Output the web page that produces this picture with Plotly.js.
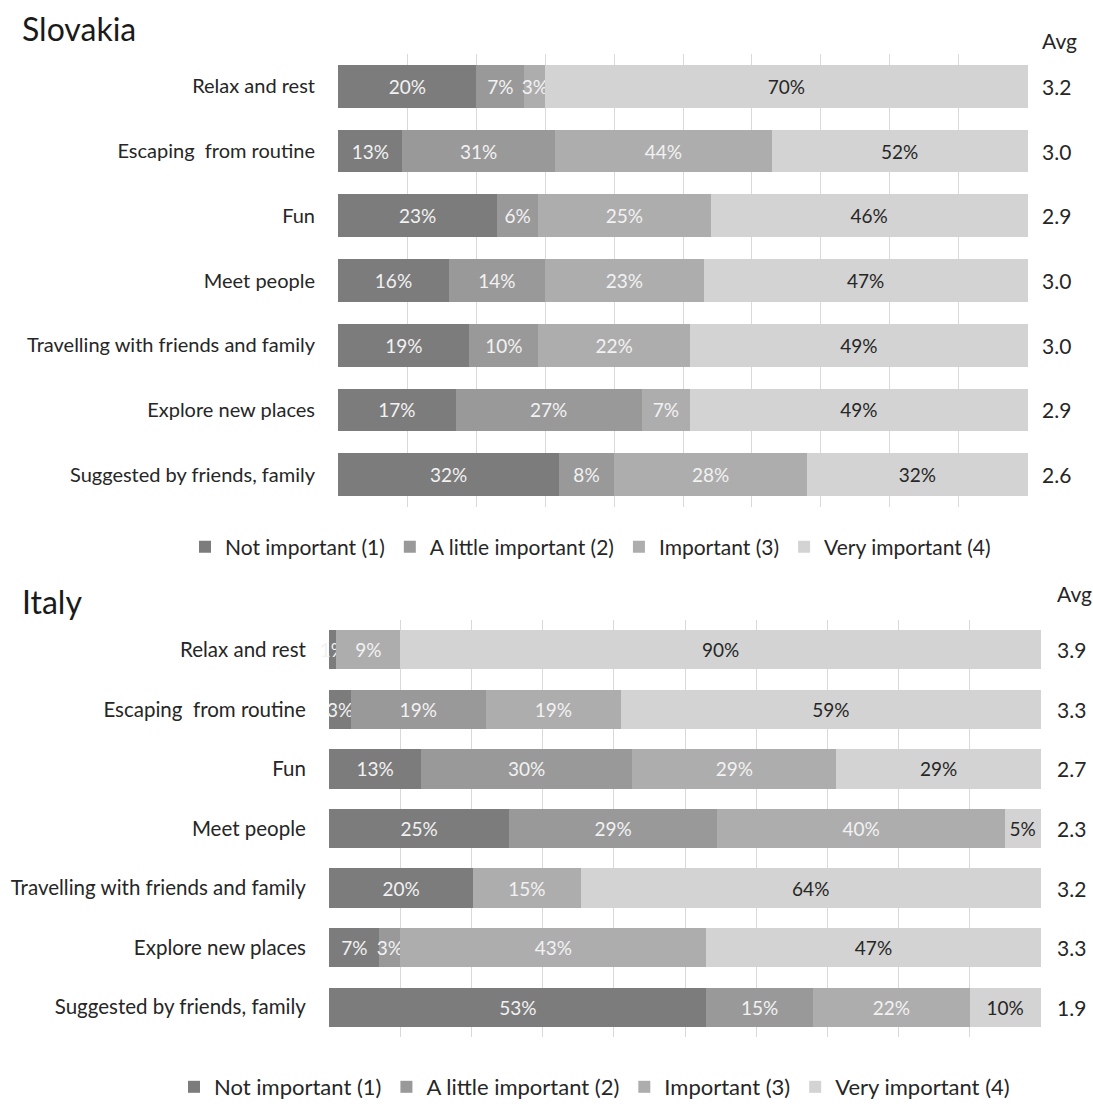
<!DOCTYPE html>
<html>
<head>
<meta charset="utf-8">
<script src="https://cdn.plot.ly/plotly-3.0.1.min.js"></script>
<style>
  html, body { margin: 0; padding: 0; background: #ffffff; }
  #sk { position: absolute; left: 0; top: 0; width: 1093px; height: 560px; }
  #it { position: absolute; left: 0; top: 560px; width: 1093px; height: 548px; }
</style>
</head>
<body>
<div id="sk"></div>
<div id="it"></div>
<script>
// ---------- data ----------
const categories = [
  'Relax and rest',
  'Escaping\u00a0 from routine',
  'Fun',
  'Meet people',
  'Travelling with friends and family',
  'Explore new places',
  'Suggested by friends, family'
];
const seriesNames = ['Not important (1)', 'A little important (2)', 'Important (3)', 'Very important (4)'];

// Slovakia
const skNotImportant = [20, 13, 23, 16, 19, 17, 32];
const skLittle       = [7, 31, 6, 14, 10, 27, 8];
const skImportant    = [3, 44, 25, 23, 22, 7, 28];
const skVery         = [70, 52, 46, 47, 49, 49, 32];
const skAvg          = ['3.2', '3.0', '2.9', '3.0', '3.0', '2.9', '2.6'];

// Italy
const itNotImportant = [1, 3, 13, 25, 20, 7, 53];
const itLittle       = [0, 19, 30, 29, 0, 3, 15];
const itImportant    = [9, 19, 29, 40, 15, 43, 22];
const itVery         = [90, 59, 29, 5, 64, 47, 10];
const itAvg          = ['3.9', '3.3', '2.7', '2.3', '3.2', '3.3', '1.9'];

// ---------- styling ----------
const FONT = 'Lato, "Open Sans", "Noto Sans", sans-serif';
const colors = ['#7c7c7c', '#999999', '#adadad', '#d3d3d3'];
const textColors = ['#f2f2f2', '#f2f2f2', '#f2f2f2', '#262626'];

function makeTraces(seriesList) {
  return seriesList.map((vals, i) => ({
    type: 'bar',
    orientation: 'h',
    name: seriesNames[i],
    y: categories,
    x: vals,
    text: vals.map(v => v > 0 ? v + '%' : ''),
    textposition: 'inside',
    insidetextanchor: 'middle',
    textangle: 0,
    constraintext: 'none',
    cliponaxis: false,
    insidetextfont: { family: FONT, size: 19, color: textColors[i] },
    marker: { color: colors[i], line: { width: 0 } },
    hoverinfo: 'skip'
  }));
}

function makeLayout(opts) {
  const annotations = [{
    text: 'Avg', xref: 'paper', yref: 'paper', x: 1, y: 1,
    xanchor: 'left', yanchor: 'middle', xshift: opts.avgShift, yshift: opts.avgHeaderShift,
    showarrow: false, font: { family: FONT, size: 21, color: '#262626' }
  }];
  opts.avg.forEach((a, i) => annotations.push({
    text: a, xref: 'paper', yref: 'y', x: 1, y: categories[i],
    xanchor: 'left', yanchor: 'middle', xshift: opts.avgShift,
    showarrow: false, font: { family: FONT, size: 21, color: '#262626' }
  }));
  return {
    width: 1093,
    height: opts.height,
    margin: Object.assign({ autoexpand: false }, opts.margin),
    paper_bgcolor: '#ffffff',
    plot_bgcolor: '#ffffff',
    barmode: 'stack',
    barnorm: 'percent',
    bargap: 0.34,
    font: { family: FONT, color: '#262626' },
    title: {
      text: opts.title,
      xref: 'container', yref: 'container',
      x: 22 / 1093, xanchor: 'left',
      y: opts.titleY, yanchor: 'middle',
      font: { family: FONT, size: 32, color: '#1a1a1a' }
    },
    xaxis: {
      range: [-0.05, 100.05],
      tick0: 0,
      dtick: 10,
      showgrid: true,
      gridcolor: '#d9d9d9',
      gridwidth: 1,
      zeroline: false,
      showline: false,
      showticklabels: false,
      ticks: '',
      automargin: false,
      fixedrange: true
    },
    yaxis: {
      type: 'category',
      autorange: 'reversed',
      showgrid: false,
      zeroline: false,
      showline: false,
      ticks: 'outside',
      ticklen: 18,
      tickcolor: 'rgba(0,0,0,0)',
      tickfont: { family: FONT, size: opts.tickSize, color: '#262626' },
      automargin: false,
      fixedrange: true
    },
    showlegend: true,
    legend: {
      orientation: 'h',
      xref: 'paper', yref: 'paper',
      x: opts.legendX, xanchor: 'left',
      y: opts.legendY, yanchor: 'middle',
      traceorder: 'normal',
      font: { family: FONT, size: opts.legendSize, color: '#262626' },
      itemclick: false, itemdoubleclick: false
    },
    annotations: annotations
  };
}

const config = { displayModeBar: false, staticPlot: true };

Plotly.newPlot('sk',
  makeTraces([skNotImportant, skLittle, skImportant, skVery]),
  makeLayout({
    title: 'Slovakia', height: 560,
    margin: { l: 338, r: 65, t: 54, b: 53, pad: 0 },
    titleY: 1 - 30 / 560,
    tickSize: 20,
    avg: skAvg, avgShift: 12, avgHeaderShift: 14,
    legendX: (185 - 338) / 690, legendY: -(547 - 507) / 453, legendSize: 21
  }), config);

Plotly.newPlot('it',
  makeTraces([itNotImportant, itLittle, itImportant, itVery]),
  makeLayout({
    title: 'Italy', height: 548,
    margin: { l: 329, r: 52, t: 60, b: 71, pad: 0 },
    titleY: 1 - 43 / 548,
    tickSize: 20.5,
    avg: itAvg, avgShift: 14, avgHeaderShift: 27,
    legendX: (174 - 329) / 712, legendY: -(527 - 477) / 417, legendSize: 22
  }), config);
</script>
</body>
</html>
